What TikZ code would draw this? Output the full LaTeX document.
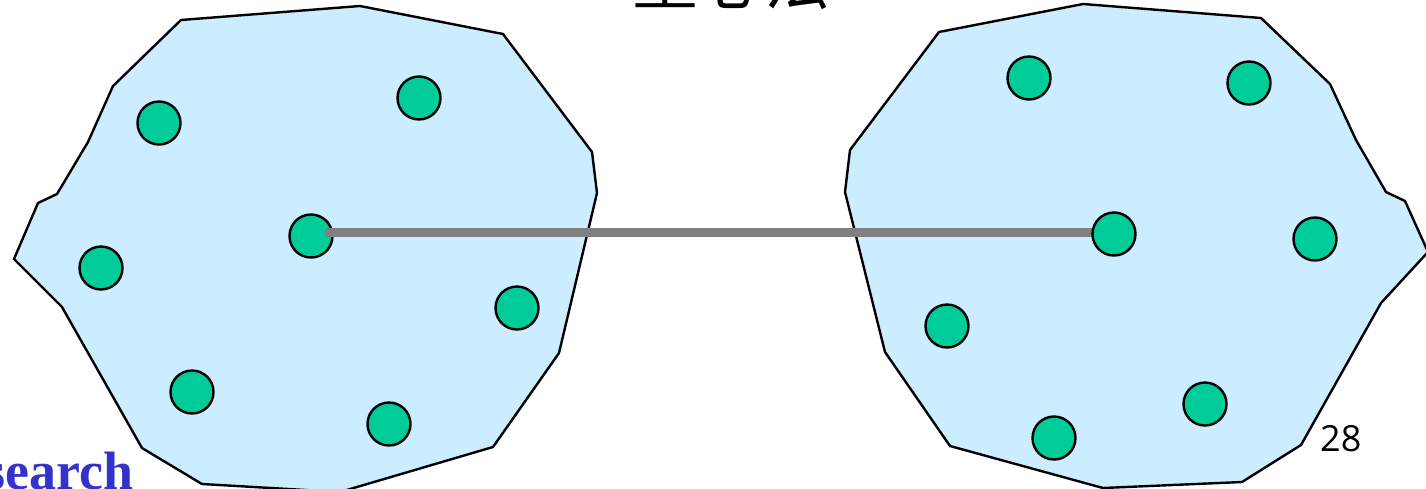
\documentclass[tikz,border=0pt]{standalone}
\usepackage{fontspec}
\newfontfamily\cjkfont{Noto Sans CJK SC}
\newfontfamily\serifbold{Liberation Serif}
\newfontfamily\numfont{Open Sans}
\definecolor{regionfill}{RGB}{204,236,255}
\definecolor{dotfill}{RGB}{0,204,153}
\definecolor{linkgray}{RGB}{128,128,128}
\definecolor{titleblue}{RGB}{51,51,204}
\tikzset{
  region/.style={draw=black, fill=regionfill, line width=2.4pt, line join=miter},
  dot/.style={circle, draw=black, fill=dotfill, line width=2.4pt, minimum size=43pt, inner sep=0pt},
  link/.style={draw=linkgray, line width=9pt},
}
\begin{document}
\begin{tikzpicture}[x=1pt,y=-1pt]
\useasboundingbox (0,0) rectangle (1426,488);
% left cluster outline
\draw[region] (181,20) -- (360,6) -- (503,34) -- (592,152) -- (597,193) -- (559,353)
  -- (493,447) -- (340,492) -- (202,484) -- (142,448) -- (62,307) -- (14,259)
  -- (38,203) -- (57,194) -- (88,142) -- (113,86) -- cycle;
% right cluster outline
\draw[region] (939,32) -- (1083,4) -- (1261,18) -- (1330,84) -- (1356,140) -- (1386,192)
  -- (1405,201) -- (1428,252) -- (1381,303) -- (1301,445) -- (1242,482) -- (1103,488)
  -- (950,446) -- (885,352) -- (845,192) -- (850,150) -- cycle;
% left points
\node[dot] (l1) at (159,123) {};
\node[dot] (l2) at (419,98) {};
\node[dot] (lc) at (311,236) {};
\node[dot] (l3) at (101,268) {};
\node[dot] (l4) at (517,308) {};
\node[dot] (l5) at (192,392) {};
\node[dot] (l6) at (389,424) {};
% link between centres
\coordinate (ls) at (325,232);
\coordinate (rcpos) at (1114,234);
\draw[link] (ls) -- (ls -| rcpos);
% right points
\node[dot] (rc) at (rcpos) {};
\node[dot] (r1) at (1029,78) {};
\node[dot] (r2) at (1249,83) {};
\node[dot] (r3) at (1315,239) {};
\node[dot] (r4) at (947,326) {};
\node[dot] (r5) at (1205,404) {};
\node[dot] (r6) at (1054,438) {};
% texts
\node[anchor=base, inner sep=0pt, font=\cjkfont\fontsize{66}{72}\selectfont] (title) at (731,4) {重心法};
\node[anchor=base east, inner sep=0pt, text=titleblue, font=\serifbold\bfseries\fontsize{54}{60}\selectfont] (word) at (134,489) {search};
\node[anchor=base west, inner sep=0pt, font=\numfont\fontsize{36}{40}\selectfont] (page) at (1320,451) {28};
\end{tikzpicture}
\end{document}
